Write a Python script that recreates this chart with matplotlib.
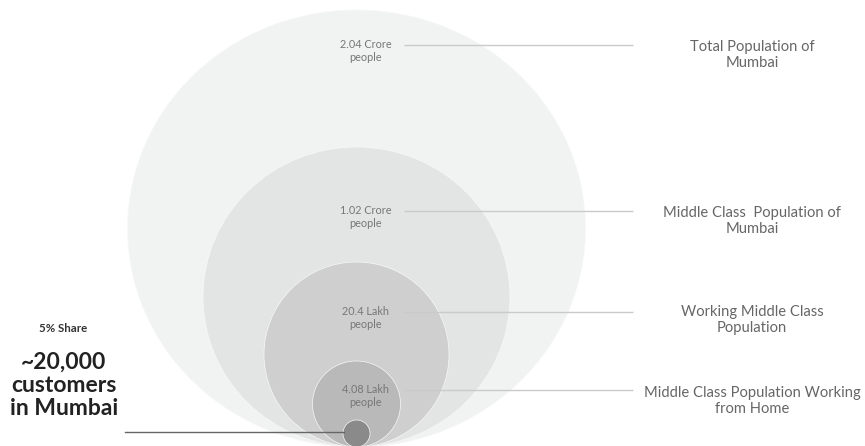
import matplotlib
matplotlib.use("Agg")
import matplotlib.pyplot as plt
from matplotlib.patches import Ellipse

# ---- data ----
levels = ["Total Population of\nMumbai",
          "Middle Class  Population of\nMumbai",
          "Working Middle Class\nPopulation",
          "Middle Class Population Working\nfrom Home",
          "Customers"]
values = ["2.04 Crore\npeople", "1.02 Crore\npeople", "20.4 Lakh\npeople",
          "4.08 Lakh\npeople", ""]
# bubble extents (pixel units of the reference layout)
widths = [458, 307, 185, 88, 27]
heights = [437, 300, 185, 86, 27]
bottom = 447
center_x = 356.5
colors = ["#f1f2f2", "#e3e4e4", "#cfcfcf", "#b9b9b9", "#8a8a8a"]
value_y = [45, 211, 312, 390]
right_label_y = [55, 221, 320, 401]
share_text = "5% Share"
customers_text = "~20,000\ncustomers\nin Mumbai"

plt.rcParams['font.family'] = ['Lato', 'DejaVu Sans']

fig = plt.figure(figsize=(8.65, 4.46), dpi=100)
ax = fig.add_axes([0, 0, 1, 1])
ax.set_xlim(0, 865)
ax.set_ylim(446, 0)
ax.axis('off')

for w, h, c in zip(widths, heights, colors):
    e = Ellipse((center_x, bottom - h / 2), w, h, facecolor=c,
                edgecolor='#f8f8f8', linewidth=0.5)
    ax.add_patch(e)

for val, y, lab, ly in zip(values[:4], value_y, levels[:4], right_label_y):
    ax.text(366, y + 6, val, ha='center', va='center', fontsize=7.8,
            color='#777777', linespacing=1.2)
    ax.plot([404, 633], [y, y], color='#cacaca', lw=1.0, solid_capstyle='butt')
    ax.text(752, ly, lab, ha='center', va='center', fontsize=10.6,
            color='#666666', linespacing=1.2)

# customers line
ax.plot([125, center_x - 13], [432, 432], color='#666666', lw=1.0)

ax.text(63, 328, share_text, ha='center', va='center', fontsize=8.3,
        fontweight='bold', color='#333333')
ax.text(64, 385, customers_text, ha='center', va='center', fontsize=16.5,
        fontweight='bold', color='#222222', linespacing=1.12)

fig.savefig('out.png', dpi=100)
